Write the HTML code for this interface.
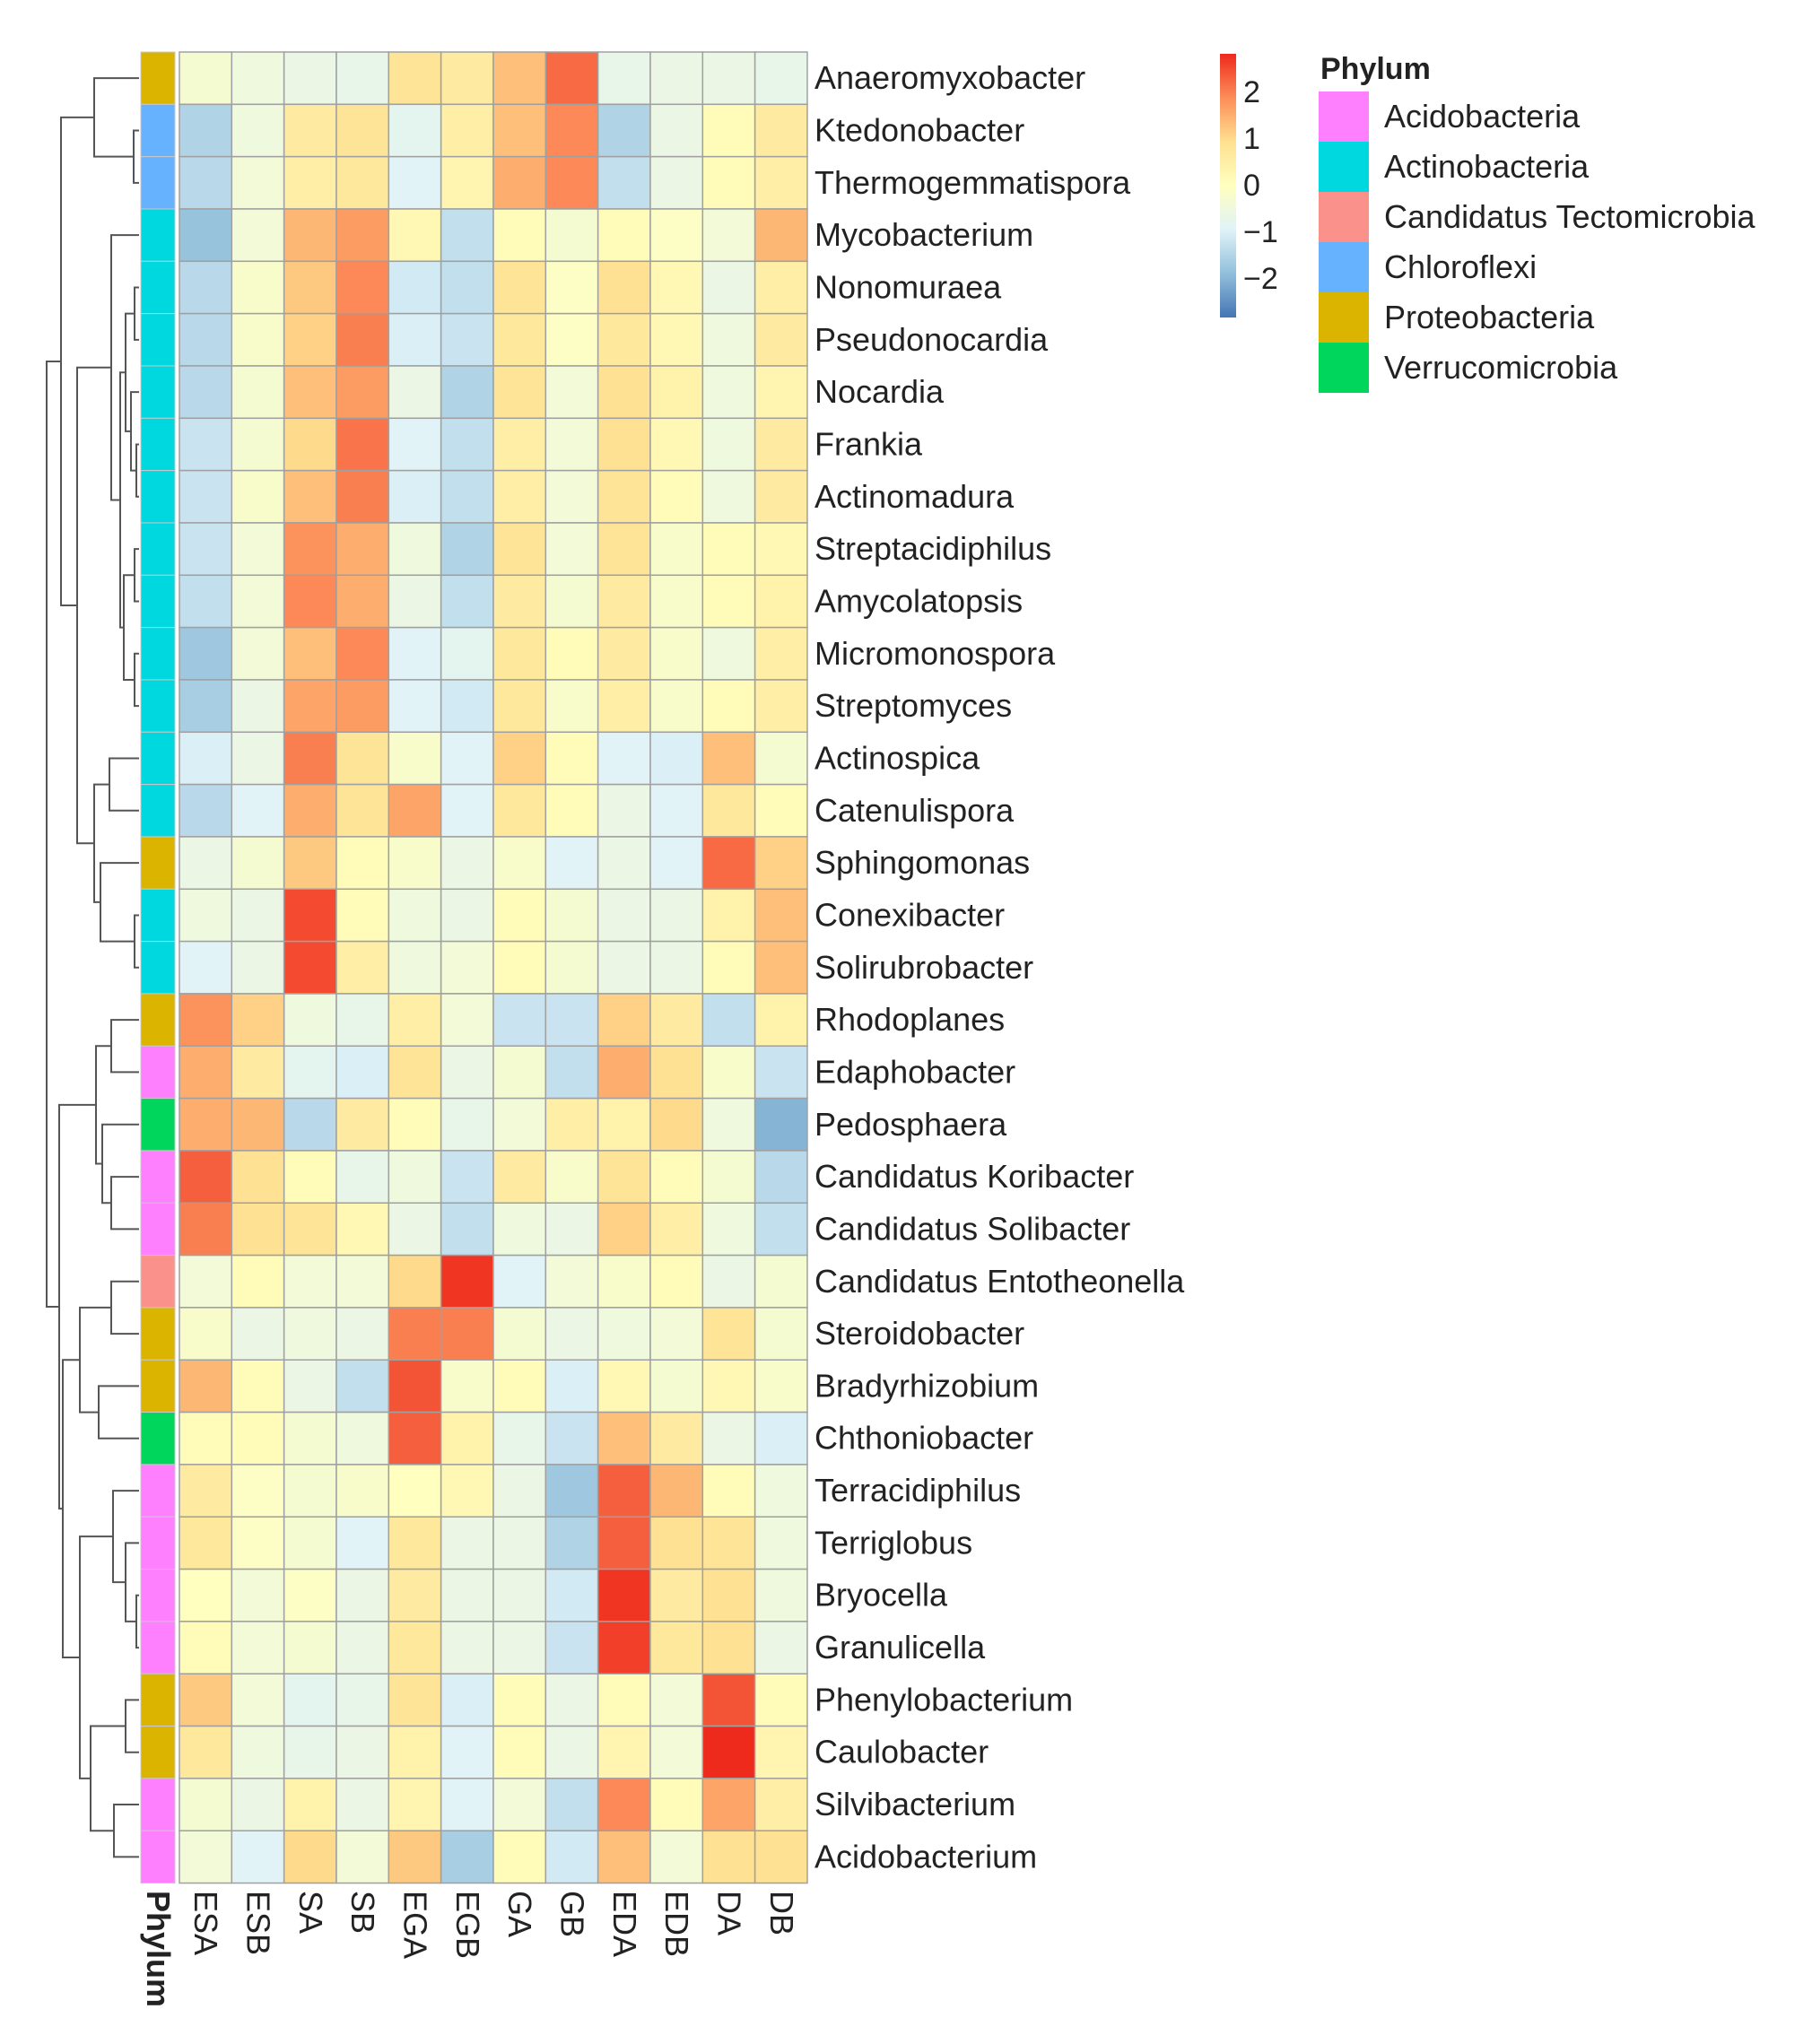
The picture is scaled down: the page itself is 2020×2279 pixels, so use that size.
<!DOCTYPE html>
<html><head><meta charset="utf-8"><title>Heatmap</title>
<style>html,body{margin:0;padding:0;background:#fff}svg{display:block}text{font-family:"Liberation Sans",Arial,sans-serif;fill:#222}</style>
</head><body>
<svg id="chart" width="2020" height="2279" viewBox="0 0 2020 2279" xmlns="http://www.w3.org/2000/svg">
<defs><linearGradient id="cbar" x1="0" y1="1" x2="0" y2="0">
<stop offset="0" stop-color="#4575B4"/><stop offset="0.1667" stop-color="#91BFDB"/><stop offset="0.3333" stop-color="#E0F3F8"/><stop offset="0.5" stop-color="#FFFFBF"/><stop offset="0.6667" stop-color="#FEE090"/><stop offset="0.8333" stop-color="#FC8D59"/><stop offset="1" stop-color="#EE2A1C"/></linearGradient></defs>
<g id="dendro"></g>
<g id="phy"></g>
<g id="cells"></g>
<g id="rlab"></g>
<g id="clab"></g>
<g id="legend">
<rect x="1360" y="60" width="18" height="294" fill="url(#cbar)"/>
</g>
<g id="plegend">
<text x="1472" y="88" font-size="34" font-weight="bold">Phylum</text>
</g>
</svg>
<script>
const columns = ["ESA","ESB","SA","SB","EGA","EGB","GA","GB","EDA","EDB","DA","DB"];
const genera = ["Anaeromyxobacter","Ktedonobacter","Thermogemmatispora","Mycobacterium","Nonomuraea","Pseudonocardia","Nocardia","Frankia","Actinomadura","Streptacidiphilus","Amycolatopsis","Micromonospora","Streptomyces","Actinospica","Catenulispora","Sphingomonas","Conexibacter","Solirubrobacter","Rhodoplanes","Edaphobacter","Pedosphaera","Candidatus Koribacter","Candidatus Solibacter","Candidatus Entotheonella","Steroidobacter","Bradyrhizobium","Chthoniobacter","Terracidiphilus","Terriglobus","Bryocella","Granulicella","Phenylobacterium","Caulobacter","Silvibacterium","Acidobacterium"];
const phylumOf = ["Proteobacteria","Chloroflexi","Chloroflexi","Actinobacteria","Actinobacteria","Actinobacteria","Actinobacteria","Actinobacteria","Actinobacteria","Actinobacteria","Actinobacteria","Actinobacteria","Actinobacteria","Actinobacteria","Actinobacteria","Proteobacteria","Actinobacteria","Actinobacteria","Proteobacteria","Acidobacteria","Verrucomicrobia","Acidobacteria","Acidobacteria","Candidatus Tectomicrobia","Proteobacteria","Proteobacteria","Verrucomicrobia","Acidobacteria","Acidobacteria","Acidobacteria","Acidobacteria","Proteobacteria","Proteobacteria","Acidobacteria","Acidobacteria"];
const phyla = ["Acidobacteria","Actinobacteria","Candidatus Tectomicrobia","Chloroflexi","Proteobacteria","Verrucomicrobia"];
const phylumColors = ["#FF80FF","#00D8E0","#FA918A","#66B2FF","#DBB400","#00D65C"];
const colorTicks = [2,1,0,-1,-2];
const values = [
[-0.3,-0.5,-0.6,-0.7,0.8,0.6,1.3,2.2,-0.7,-0.6,-0.6,-0.7],
[-1.5,-0.5,0.6,0.8,-0.8,0.5,1.3,1.9,-1.5,-0.6,0.1,0.6],
[-1.4,-0.4,0.5,0.7,-0.9,0.3,1.5,1.9,-1.3,-0.6,0.1,0.5],
[-1.8,-0.4,1.4,1.7,0.2,-1.3,0.1,-0.3,0.1,-0.1,-0.4,1.4],
[-1.4,-0.2,1.2,1.9,-1.1,-1.3,0.8,-0.1,0.9,0.2,-0.6,0.5],
[-1.4,-0.2,1.1,2.0,-1.0,-1.2,0.7,-0.1,0.7,0.2,-0.5,0.6],
[-1.4,-0.3,1.3,1.7,-0.6,-1.5,0.8,-0.4,0.9,0.4,-0.5,0.3],
[-1.2,-0.3,1.0,2.1,-0.9,-1.3,0.5,-0.4,0.9,0.2,-0.5,0.6],
[-1.2,-0.2,1.3,2.0,-1.0,-1.3,0.5,-0.4,0.8,0.1,-0.5,0.6],
[-1.2,-0.4,1.8,1.5,-0.5,-1.5,0.8,-0.4,0.8,-0.2,0.1,0.2],
[-1.3,-0.4,1.9,1.5,-0.6,-1.3,0.6,-0.3,0.6,-0.2,0.1,0.4],
[-1.7,-0.4,1.3,1.9,-0.9,-0.8,0.7,0.1,0.6,-0.2,-0.5,0.5],
[-1.6,-0.6,1.6,1.7,-0.9,-1.1,0.7,-0.2,0.5,-0.2,0.1,0.5],
[-1.0,-0.6,2.0,0.8,-0.2,-0.9,1.1,0.1,-0.9,-1.0,1.3,-0.3],
[-1.4,-0.9,1.5,0.8,1.6,-0.9,0.7,0.1,-0.6,-0.9,0.7,0.1],
[-0.6,-0.3,1.2,0.1,-0.2,-0.6,-0.2,-0.9,-0.6,-0.9,2.2,1.1],
[-0.5,-0.6,2.5,0.1,-0.5,-0.6,0.1,-0.3,-0.6,-0.6,0.4,1.3],
[-0.9,-0.6,2.5,0.5,-0.5,-0.4,0.1,-0.3,-0.6,-0.6,0.1,1.3],
[1.8,1.1,-0.5,-0.7,0.5,-0.4,-1.2,-1.2,1.1,0.6,-1.3,0.4],
[1.5,0.6,-0.8,-1.0,0.8,-0.6,-0.3,-1.3,1.5,0.9,-0.2,-1.2],
[1.5,1.4,-1.4,0.6,0.1,-0.7,-0.4,0.5,0.4,1.0,-0.5,-2.0],
[2.3,0.9,0.1,-0.7,-0.5,-1.2,0.6,-0.2,0.8,0.1,-0.3,-1.4],
[2.0,0.9,0.8,0.2,-0.6,-1.3,-0.5,-0.6,1.1,0.5,-0.5,-1.3],
[-0.4,0.1,-0.4,-0.4,1.0,2.7,-0.9,-0.4,-0.2,0.1,-0.6,-0.3],
[-0.2,-0.6,-0.5,-0.6,2.0,2.0,-0.3,-0.6,-0.5,-0.4,0.8,-0.3],
[1.4,0.1,-0.6,-1.3,2.4,-0.2,0.1,-1.0,0.2,-0.3,0.2,-0.2],
[0.1,0.1,-0.3,-0.5,2.3,0.4,-0.7,-1.2,1.3,0.6,-0.6,-1.0],
[0.6,-0.1,-0.3,-0.2,0.0,0.2,-0.6,-1.7,2.3,1.4,0.1,-0.5],
[0.7,-0.1,-0.3,-0.9,0.7,-0.6,-0.6,-1.5,2.3,0.9,0.8,-0.5],
[0.0,-0.4,-0.1,-0.6,0.6,-0.6,-0.6,-1.1,2.7,0.6,0.9,-0.5],
[0.1,-0.4,-0.3,-0.6,0.7,-0.6,-0.6,-1.2,2.6,0.7,0.9,-0.6],
[1.2,-0.4,-0.8,-0.7,0.8,-1.0,0.1,-0.6,0.1,-0.4,2.4,0.1],
[0.7,-0.5,-0.7,-0.6,0.4,-0.9,0.1,-0.6,0.3,-0.4,2.8,0.3],
[-0.3,-0.6,0.4,-0.6,0.3,-0.9,-0.4,-1.3,1.9,0.1,1.6,0.5],
[-0.4,-0.9,1.0,-0.4,1.2,-1.6,0.1,-1.1,1.3,-0.4,0.9,0.9]
];
// dendrogram topology: [left, right, mergeX]; leaves are row indices
const clR4to13 = [3, [[[4,5,150],[6,[7,8,152],146],140],[[9,10,150],[11,12,150],138],134], 124];
const clR14to18 = [[13,14,122],[15,[16,17,150],112],105];
const clActino = [clR4to13, clR14to18, 86];
const clTop = [[0,[1,2,149],105], clActino, 68];
const clB1 = [[18,19,124],[20,[21,22,124],114],107];
const clB2 = [[23,24,124],[25,26,110],89];
const clB3 = [27,[28,[29,30,152],140],126];
const clB4 = [[31,32,140],[33,34,127],101];
const clBottom = [clB1, [clB2, [clB3, clB4, 89], 70], 66];
const tree = [clTop, clBottom, 52];

const NS="http://www.w3.org/2000/svg";
const X0=200, Y0=58, CW=58.33, CH=58.33, VMIN=-2.8, VMAX=2.8;
const palette=["#4575B4","#91BFDB","#E0F3F8","#FFFFBF","#FEE090","#FC8D59","#EE2A1C"];
function xScale(j){return X0+j*CW;}
function yScale(i){return Y0+i*CH;}
function hex(c){return [1,3,5].map(k=>parseInt(c.substr(k,2),16));}
function colorScale(v){
  let t=(v-VMIN)/(VMAX-VMIN); t=Math.max(0,Math.min(1,t))*(palette.length-1);
  const k=Math.min(palette.length-2,Math.floor(t)), f=t-k;
  const a=hex(palette[k]), b=hex(palette[k+1]);
  return "rgb("+a.map((x,i)=>Math.round(x+(b[i]-x)*f)).join(",")+")";
}
function mk(tag,attrs,parent){const e=document.createElementNS(NS,tag);for(const k in attrs)e.setAttribute(k,attrs[k]);parent.appendChild(e);return e;}
function slug(s){return s.toLowerCase().replace(/ /g,'-');}

const cells=document.getElementById('cells');
values.forEach((row,i)=>row.forEach((v,j)=>{
  const r=mk('rect',{x:xScale(j),y:yScale(i),width:CW,height:CH,fill:colorScale(v),stroke:"#a0a0a0","stroke-width":1.5},cells);
  
  
}));
const phy=document.getElementById('phy');
phylumOf.forEach((p,i)=>{
  const r=mk('rect',{x:157,y:yScale(i),width:38,height:CH,fill:phylumColors[phyla.indexOf(p)],stroke:"#c8c8c8","stroke-width":1},phy);
  
  
});
const rlab=document.getElementById('rlab');
genera.forEach((g,i)=>{
  const t=mk('text',{x:908,y:yScale(i)+CH/2+12,"font-size":36},rlab);
  t.textContent=g;
  
  
});
const clab=document.getElementById('clab');
columns.forEach((c,j)=>{
  const cx=xScale(j)+CW/2-12;
  const t=mk('text',{x:0,y:0,"font-size":36,transform:"translate("+cx+",2108) rotate(90)"},clab);
  t.textContent=c;
  
  
});
const phyLab=mk('text',{x:0,y:0,"font-size":36,"font-weight":"bold",transform:"translate(164,2108) rotate(90)"},clab);
phyLab.textContent="Phylum";



const dg=document.getElementById('dendro');
const LEAFX=155;
function draw(n){
  if(typeof n==="number") return {x:LEAFX,y:yScale(n)+CH/2};
  const a=draw(n[0]), b=draw(n[1]), h=n[2];
  const p=mk('path',{d:"M"+a.x+","+a.y+"H"+h+"V"+b.y+"H"+b.x,fill:"none",stroke:"#555","stroke-width":2},dg);
  
  
  return {x:h,y:(a.y+b.y)/2};
}
draw(tree);

const lg=document.getElementById('legend');
const zeroY=206, unit=52;
colorTicks.forEach(v=>{
  const t=mk('text',{x:1386,y:zeroY-v*unit+12,"font-size":34},lg);
  t.textContent=v<0?"\u2212"+Math.abs(v):String(v);
  
  
});
const pl=document.getElementById('plegend');
phyla.forEach((p,i)=>{
  const y=102+i*56;
  const r=mk('rect',{x:1470,y:y,width:56,height:56,fill:phylumColors[i]},pl);
  
  
  const t=mk('text',{x:1543,y:y+40,"font-size":36},pl);
  t.textContent=p;
  
  
});
</script>
</body></html>
